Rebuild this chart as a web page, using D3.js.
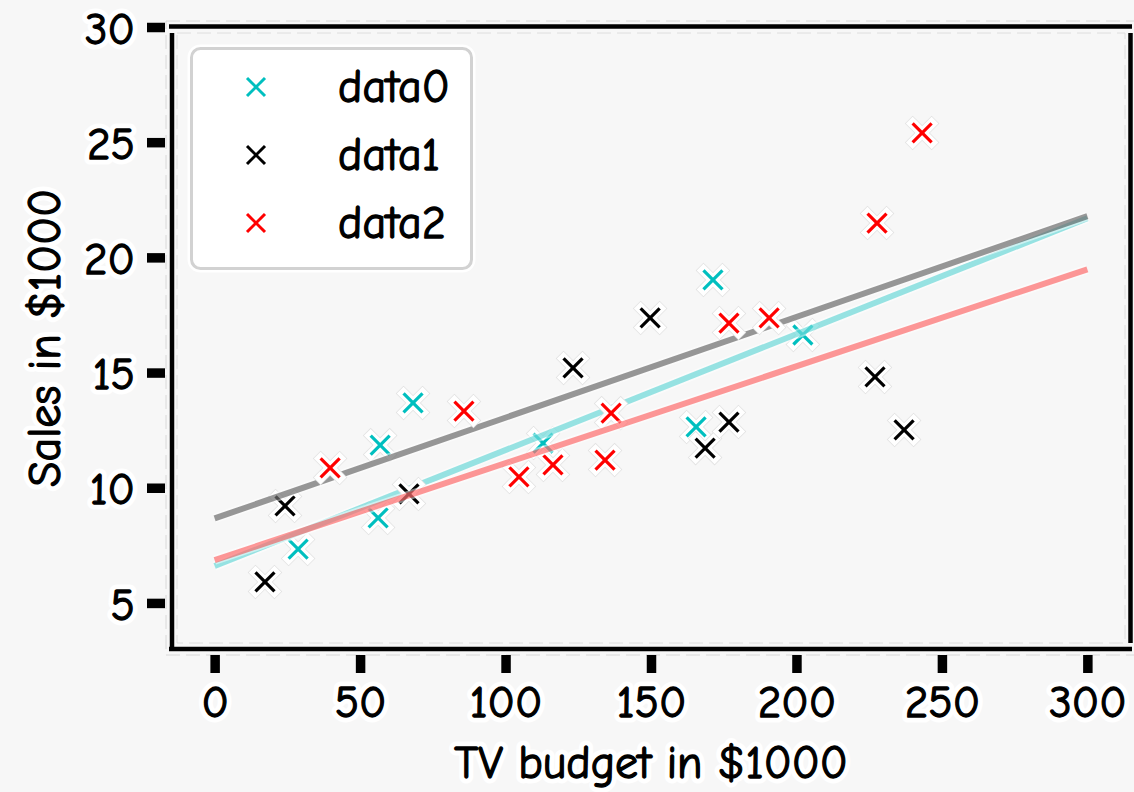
<!DOCTYPE html>
<html>
<head>
<meta charset="utf-8">
<script src="https://cdn.jsdelivr.net/npm/d3@7"></script>
<style>
  html, body { margin: 0; padding: 0; background: #f7f7f7; }
  svg { display: block; }
  text { font-family: "Humor Sans", "Comic Neue", "Comic Sans MS", Lato, sans-serif; fill: #000; }
  .halo { stroke: #fff; stroke-width: 11px; stroke-linejoin: round; fill: #fff; }
  .ink { stroke: #000; stroke-width: 1.3px; stroke-linejoin: round; }
</style>
</head>
<body>
<svg id="chart" width="1134" height="792"></svg>
<script>
// TV budget (x, $1000) and sales (y, $1000) for three groups
const data0X = [28.7, 56.2, 56.9, 68.2, 112.9, 165.5, 171.3, 202.2];
const data0Y = [7.34, 8.69, 11.85, 13.68, 11.94, 12.64, 19.02, 16.63];
const data1X = [17.3, 24.2, 66.8, 123.2, 149.7, 168.6, 176.8, 227.0, 237.0];
const data1Y = [5.91, 9.21, 9.73, 15.2, 17.37, 11.72, 12.85, 14.81, 12.51];
const data2X = [39.7, 85.7, 104.6, 116.3, 134.2, 136.3, 176.8, 190.6, 227.7, 243.2];
const data2Y = [10.86, 13.33, 10.47, 10.99, 11.2, 13.24, 17.15, 17.37, 21.49, 25.4];

// fitted trend lines: sales at TV budget 0 and 300
const fitX = [0, 300];
const fit0Y = [6.6, 21.7];
const fit1Y = [8.67, 21.79];
const fit2Y = [6.86, 19.48];

const seriesNames = ["data0", "data1", "data2"];
const seriesColors = ["#00bfbf", "#000000", "#ff0000"];
const xTicks = [0, 50, 100, 150, 200, 250, 300];
const yTicks = [5, 10, 15, 20, 25, 30];

const svg = d3.select("#chart");
const x = d3.scaleLinear().domain([-15, 315]).range([171, 1131]);
const y = d3.scaleLinear().domain([3, 30]).range([649, 27]);

// white halo copy behind a label, slightly inked label on top
function haloText(sel) {
  sel.each(function () {
    const t = d3.select(this);
    t.clone(false).attr("class", "halo").text(t.text()).lower();
    t.attr("class", "ink");
  });
}

// faint sketchy outline around the axes box
svg.append("rect").attr("x", 166).attr("y", 21).attr("width", 970).attr("height", 634)
  .attr("fill", "none").attr("stroke", "#d8d8d8").attr("stroke-width", 1).attr("stroke-dasharray", "14,6");
svg.append("rect").attr("x", 177).attr("y", 33).attr("width", 948).attr("height", 610)
  .attr("fill", "none").attr("stroke", "#dedede").attr("stroke-width", 1).attr("stroke-dasharray", "14,6");

// spines
const spine = svg.append("g").attr("stroke", "#000").attr("stroke-width", 4.5).attr("stroke-linecap", "butt");
spine.append("line").attr("x1", 169).attr("x2", 1132).attr("y1", 26.5).attr("y2", 26.5);
spine.append("line").attr("x1", 172).attr("x2", 172).attr("y1", 33).attr("y2", 648);
spine.append("line").attr("x1", 1130.5).attr("x2", 1130.5).attr("y1", 33).attr("y2", 643);
spine.append("line").attr("x1", 169).attr("x2", 1132).attr("y1", 649).attr("y2", 649);

// y axis: thick ticks outside the left spine
const yAxis = d3.axisLeft(y).tickValues(yTicks).tickSize(18).tickPadding(12).tickFormat(d3.format("d"));
const gy = svg.append("g").attr("transform", "translate(165,0)").call(yAxis);
gy.select(".domain").remove();
gy.selectAll(".tick line").attr("stroke", "#000").attr("stroke-width", 9.5);
gy.selectAll(".tick text").style("font-size", "45px").attr("dy", "0.36em").call(haloText);

// x axis
const xAxis = d3.axisBottom(x).tickValues(xTicks).tickSize(18).tickPadding(12).tickFormat(d3.format("d"));
const gx = svg.append("g").attr("transform", "translate(0,655)").call(xAxis);
gx.select(".domain").remove();
gx.selectAll(".tick line").attr("stroke", "#000").attr("stroke-width", 9.5);
gx.selectAll(".tick text").style("font-size", "45px").attr("dy", "0.72em").call(haloText);

// axis titles
const titles = svg.append("g");
titles.append("text").attr("x", 651).attr("y", 778)
  .attr("text-anchor", "middle").style("font-size", "46px").text("TV budget in $1000");
titles.append("text").attr("transform", "translate(60,338) rotate(-90)")
  .attr("text-anchor", "middle").style("font-size", "46px").text("Sales in $1000");
titles.selectAll("text").call(haloText);

// x-shaped marker
function drawX(g, cx, cy, r, color, width) {
  g.append("line").attr("x1", cx - r).attr("y1", cy - r).attr("x2", cx + r).attr("y2", cy + r)
    .attr("stroke", color).attr("stroke-width", width);
  g.append("line").attr("x1", cx - r).attr("y1", cy + r).attr("x2", cx + r).attr("y2", cy - r)
    .attr("stroke", color).attr("stroke-width", width);
}

function scatter(xs, ys, color) {
  const g = svg.append("g");
  xs.forEach((v, i) => {
    const cx = x(v), cy = y(ys[i]);
    const h = g.append("g").attr("stroke-linecap", "square");
    drawX(h, cx, cy, 9.5, "#e2e2e2", 11);
    drawX(h, cx, cy, 9.5, "#ffffff", 9.5);
    drawX(g.append("g").attr("stroke-linecap", "butt"), cx, cy, 9.5, color, 3.2);
  });
}

const line = d3.line().x(d => x(d[0])).y(d => y(d[1]));
function fitLine(ys, color) {
  const pts = fitX.map((v, i) => [v, ys[i]]);
  svg.append("path").attr("d", line(pts)).attr("fill", "none")
    .attr("stroke", "#ffffff").attr("stroke-opacity", 0.5).attr("stroke-width", 9.5);
  svg.append("path").attr("d", line(pts)).attr("fill", "none")
    .attr("stroke", color).attr("stroke-opacity", 0.4).attr("stroke-width", 6);
}

scatter(data0X, data0Y, seriesColors[0]);
fitLine(fit0Y, seriesColors[0]);
scatter(data1X, data1Y, seriesColors[1]);
fitLine(fit1Y, seriesColors[1]);
scatter(data2X, data2Y, seriesColors[2]);
fitLine(fit2Y, seriesColors[2]);

// legend
const legend = svg.append("g");
legend.append("rect").attr("x", 191.5).attr("y", 48.5).attr("width", 280).attr("height", 220)
  .attr("rx", 9).attr("fill", "#fff").attr("stroke", "#ffffff").attr("stroke-width", 8);
legend.append("rect").attr("x", 191.5).attr("y", 48.5).attr("width", 280).attr("height", 220)
  .attr("rx", 9).attr("fill", "#fff").attr("stroke", "#d2d2d2").attr("stroke-width", 3);
seriesNames.forEach((name, i) => {
  const cy = 87 + i * 68;
  drawX(legend.append("g"), 256, cy, 9, seriesColors[i], 3);
  legend.append("text").attr("class", "ink").attr("x", 338).attr("y", cy + 15)
    .style("font-size", "46px").text(name);
});
</script>
</body>
</html>
